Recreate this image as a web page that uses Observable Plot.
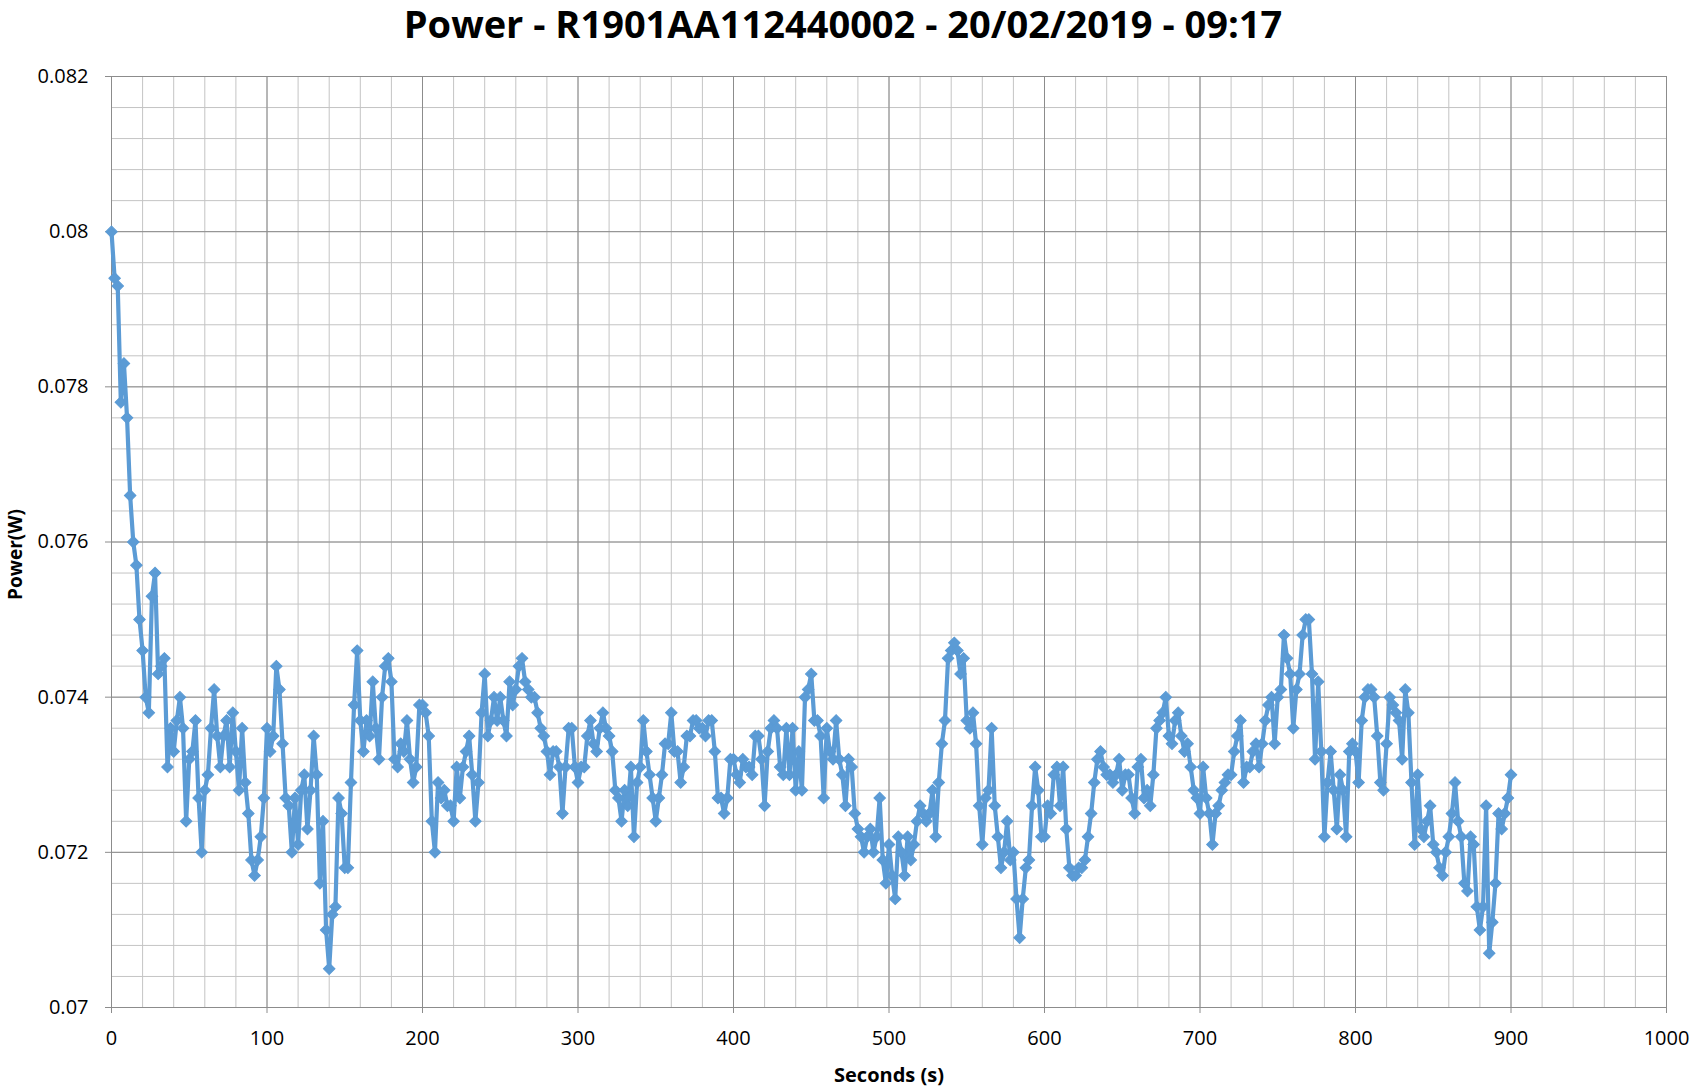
<!DOCTYPE html>
<html><head><meta charset="utf-8">
<script src="https://cdn.jsdelivr.net/npm/d3@7"></script>
<script src="https://cdn.jsdelivr.net/npm/@observablehq/plot@0.6"></script>
<style>
body{margin:0;background:#fff;}
#title{height:52px;width:1696px;text-align:center;font:700 38px "Open Sans";line-height:46px;padding-right:10px;box-sizing:border-box;color:#000;}
</style></head><body>
<div id="title">Power - R1901AA112440002 - 20/02/2019 - 09:17</div>
<div id="chart"></div>
<script>
// Power (W), sampled every 2 s, one array per 100 s block
const p000 = [0.0800,0.0794,0.0793,0.0778,0.0783,0.0776,0.0766,0.0760,0.0757,0.0750,
 0.0746,0.0740,0.0738,0.0753,0.0756,0.0743,0.0744,0.0745,0.0731,0.0736,
 0.0733,0.0737,0.0740,0.0736,0.0724,0.0732,0.0733,0.0737,0.0727,0.0720,
 0.0728,0.0730,0.0736,0.0741,0.0735,0.0731,0.0735,0.0737,0.0731,0.0738,
 0.0733,0.0728,0.0736,0.0729,0.0725,0.0719,0.0717,0.0719,0.0722,0.0727];
const p100 = [0.0736,0.0733,0.0735,0.0744,0.0741,0.0734,0.0727,0.0726,0.0720,0.0727,
 0.0721,0.0728,0.0730,0.0723,0.0728,0.0735,0.0730,0.0716,0.0724,0.0710,
 0.0705,0.0712,0.0713,0.0727,0.0725,0.0718,0.0718,0.0729,0.0739,0.0746,
 0.0737,0.0733,0.0737,0.0735,0.0742,0.0736,0.0732,0.0740,0.0744,0.0745,
 0.0742,0.0732,0.0731,0.0734,0.0733,0.0737,0.0732,0.0729,0.0731,0.0739];
const p200 = [0.0739,0.0738,0.0735,0.0724,0.0720,0.0729,0.0727,0.0728,0.0726,0.0726,
 0.0724,0.0731,0.0727,0.0731,0.0733,0.0735,0.0730,0.0724,0.0729,0.0738,
 0.0743,0.0735,0.0737,0.0740,0.0737,0.0740,0.0737,0.0735,0.0742,0.0739,
 0.0741,0.0744,0.0745,0.0742,0.0741,0.0740,0.0740,0.0738,0.0736,0.0735,
 0.0733,0.0730,0.0733,0.0733,0.0731,0.0725,0.0731,0.0736,0.0736,0.0731];
const p300 = [0.0729,0.0731,0.0731,0.0735,0.0737,0.0734,0.0733,0.0736,0.0738,0.0736,
 0.0735,0.0733,0.0728,0.0727,0.0724,0.0728,0.0726,0.0731,0.0722,0.0729,
 0.0731,0.0737,0.0733,0.0730,0.0727,0.0724,0.0727,0.0730,0.0734,0.0734,
 0.0738,0.0733,0.0733,0.0729,0.0731,0.0735,0.0735,0.0737,0.0737,0.0736,
 0.0736,0.0735,0.0737,0.0737,0.0733,0.0727,0.0727,0.0725,0.0727,0.0732];
const p400 = [0.0732,0.0730,0.0729,0.0732,0.0731,0.0731,0.0730,0.0735,0.0735,0.0732,
 0.0726,0.0733,0.0736,0.0737,0.0736,0.0731,0.0730,0.0736,0.0730,0.0736,
 0.0728,0.0733,0.0728,0.0740,0.0741,0.0743,0.0737,0.0737,0.0735,0.0727,
 0.0736,0.0733,0.0732,0.0737,0.0732,0.0730,0.0726,0.0732,0.0731,0.0725,
 0.0723,0.0722,0.0720,0.0722,0.0723,0.0720,0.0722,0.0727,0.0719,0.0716];
const p500 = [0.0721,0.0717,0.0714,0.0722,0.0720,0.0717,0.0722,0.0719,0.0721,0.0724,
 0.0726,0.0725,0.0724,0.0725,0.0728,0.0722,0.0729,0.0734,0.0737,0.0745,
 0.0746,0.0747,0.0746,0.0743,0.0745,0.0737,0.0736,0.0738,0.0734,0.0726,
 0.0721,0.0727,0.0728,0.0736,0.0726,0.0722,0.0718,0.0720,0.0724,0.0719,
 0.0720,0.0714,0.0709,0.0714,0.0718,0.0719,0.0726,0.0731,0.0728,0.0722];
const p600 = [0.0722,0.0726,0.0725,0.0730,0.0731,0.0726,0.0731,0.0723,0.0718,0.0717,
 0.0717,0.0718,0.0718,0.0719,0.0722,0.0725,0.0729,0.0732,0.0733,0.0731,
 0.0730,0.0730,0.0729,0.0730,0.0732,0.0728,0.0730,0.0730,0.0727,0.0725,
 0.0731,0.0732,0.0727,0.0728,0.0726,0.0730,0.0736,0.0737,0.0738,0.0740,
 0.0735,0.0734,0.0737,0.0738,0.0735,0.0733,0.0734,0.0731,0.0728,0.0727];
const p700 = [0.0725,0.0731,0.0727,0.0725,0.0721,0.0725,0.0726,0.0728,0.0729,0.0730,
 0.0730,0.0733,0.0735,0.0737,0.0729,0.0731,0.0731,0.0733,0.0734,0.0731,
 0.0734,0.0737,0.0739,0.0740,0.0734,0.0740,0.0741,0.0748,0.0745,0.0743,
 0.0736,0.0741,0.0743,0.0748,0.0750,0.0750,0.0743,0.0732,0.0742,0.0733,
 0.0722,0.0729,0.0733,0.0728,0.0723,0.0730,0.0728,0.0722,0.0733,0.0734];
const p800 = [0.0733,0.0729,0.0737,0.0740,0.0741,0.0741,0.0740,0.0735,0.0729,0.0728,
 0.0734,0.0740,0.0739,0.0738,0.0737,0.0732,0.0741,0.0738,0.0729,0.0721,
 0.0730,0.0723,0.0722,0.0724,0.0726,0.0721,0.0720,0.0718,0.0717,0.0720,
 0.0722,0.0725,0.0729,0.0724,0.0722,0.0716,0.0715,0.0722,0.0721,0.0713,
 0.0710,0.0713,0.0726,0.0707,0.0711,0.0716,0.0725,0.0723,0.0725,0.0727,0.0730];

const blockStarts = [0,100,200,300,400,500,600,700,800];
const blocks = [p000,p100,p200,p300,p400,p500,p600,p700,p800];
const sampleStep = 2;

const xTicks = [0,100,200,300,400,500,600,700,800,900,1000];
const yTicks = [0.070,0.072,0.074,0.076,0.078,0.080,0.082];
const xMinor = d3.range(0, 1001, 20);
const yMinor = d3.range(0, 31).map(i => 0.070 + i * 0.0004);

const data = blocks.flatMap((vals, b) => vals.map((v, i) => ({seconds: blockStarts[b] + sampleStep * i, power: v})));

const blue = "#5B9BD5";
const chart = Plot.plot({
  width: 1696, height: 1040,
  marginTop: 24, marginBottom: 85, marginLeft: 111, marginRight: 30,
  style: {fontFamily: "Open Sans", fontSize: "20px", background: "white", color: "black"},
  x: {domain: [0, 1000]},
  y: {domain: [0.070, 0.082]},
  marks: [
    Plot.ruleX(xMinor, {stroke: "#c4c4c4", strokeWidth: 1}),
    Plot.ruleY(yMinor, {stroke: "#c4c4c4", strokeWidth: 1}),
    Plot.ruleX(xTicks, {stroke: "#8c8c8c", strokeWidth: 1}),
    Plot.ruleY(yTicks, {stroke: "#8c8c8c", strokeWidth: 1}),
    Plot.axisX({ticks: xTicks, tickSize: 6, tickPadding: 17, stroke: "#8c8c8c", fill: "black", label: null, tickFormat: d => String(d)}),
    Plot.axisY({ticks: yTicks, tickSize: 6, tickPadding: 17, stroke: "#8c8c8c", fill: "black", label: null, tickFormat: d => String(+d.toFixed(3))}),
    Plot.line(data, {x: "seconds", y: "power", stroke: blue, strokeWidth: 4.2, strokeLinejoin: "round"}),
    Plot.dot(data, {x: "seconds", y: "power", symbol: "square", rotate: 45, r: 4.6, fill: blue, stroke: blue, strokeWidth: 1}),
    Plot.text(["Seconds (s)"], {text: d => d, frameAnchor: "bottom", dy: 74, fontWeight: "bold", fontSize: 20, fill: "black"}),
    Plot.text(["Power(W)"], {text: d => d, frameAnchor: "left", dx: -96, dy: 58, rotate: -90, fontWeight: "bold", fontSize: 19, fill: "black"})
  ]
});
document.getElementById("chart").appendChild(chart);
</script>
</body></html>
